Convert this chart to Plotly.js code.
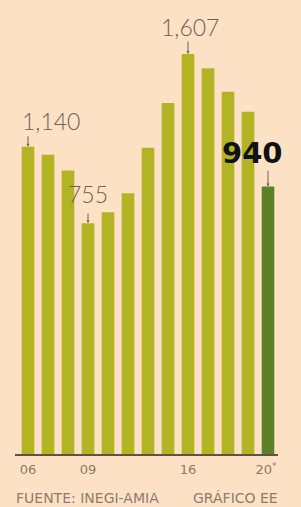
<!DOCTYPE html>
<html>
<head>
<meta charset="utf-8">
<script src="https://cdn.plot.ly/plotly-3.0.1.min.js"></script>
<style>html,body{margin:0;padding:0;background:#fde1c4;}</style>
</head>
<body>
<div id="chart" style="width:301px;height:507px;"></div>
<script>
// Data
const categories = ["2006","2007","2008","2009","2010","2011","2012","2013","2016","2017","2018","2019","2020"];
const values = [1140, 1100, 1020, 755, 810, 905, 1135, 1360, 1607, 1535, 1417, 1316, 940];
const tickVals = ["2006","2009","2016","2020"];
const tickText = ["06","09","16","20<sup>*</sup>&nbsp;"];
const labelCats = ["2006","2009","2016","2020"];
const labelVals = [1140, 755, 1607, 940];
const labelText = ["1,140","755","1,607","940"];
const sourceText = "FUENTE: INEGI-AMIA";
const creditText = "GRÁFICO EE";

// Styling
const axisFloor = -408;
const bg = "#fde1c4";
const olive = "#b2b423";
const dark = "#5c8126";
const colors = categories.map((c, i) => i === categories.length - 1 ? dark : olive);

const thin = {family: "Lato", weight: 300, size: 23, color: "#6c6058"};
const labelStyle = [
  {xshift: 23, yshift: 26, font: thin, len: 12},
  {xshift: 0, yshift: 29, font: thin, len: 11},
  {xshift: 2, yshift: 27, font: thin, len: 14},
  {xshift: -16, yshift: 33, font: {family: "DejaVu Sans", weight: 700, size: 29, color: "#111111"}, len: 17}
];

const annotations = [];
labelCats.forEach((c, i) => {
  const s = labelStyle[i];
  const xi = categories.indexOf(c);
  annotations.push({
    x: xi, y: labelVals[i], xref: "x", yref: "y",
    text: labelText[i], showarrow: false,
    xanchor: "center", yanchor: "middle",
    xshift: s.xshift, yshift: s.yshift, font: s.font
  });
  annotations.push({
    x: xi, y: labelVals[i], xref: "x", yref: "y",
    text: "", showarrow: true, ax: 0, ay: -s.len,
    arrowhead: 2, arrowsize: 0.6, arrowwidth: 1, arrowcolor: "#6c6058"
  });
});
const footFont = {family: "DejaVu Sans", size: 14, color: "#8c7c6e"};
annotations.push({
  x: -0.004, y: -0.096, xref: "paper", yref: "paper", xanchor: "left", yanchor: "middle",
  text: sourceText, showarrow: false, font: footFont
});
annotations.push({
  x: 1.008, y: -0.096, xref: "paper", yref: "paper", xanchor: "right", yanchor: "middle",
  text: creditText, showarrow: false, font: footFont
});

const trace = {
  type: "bar",
  x: categories,
  y: values.map(v => v - axisFloor),
  base: axisFloor,
  marker: {color: colors, line: {width: 0}},
  hoverinfo: "skip"
};

const layout = {
  width: 301, height: 507,
  margin: {l: 15, r: 23, t: 0, b: 53, pad: 0},
  paper_bgcolor: bg, plot_bgcolor: bg,
  bargap: 0.37,
  showlegend: false,
  xaxis: {
    type: "category", range: [-0.65, 12.5],
    showline: true, linecolor: "#5f5249", linewidth: 1.5,
    tickvals: tickVals, ticktext: tickText, ticks: "",
    ticklabelstandoff: 3,
    tickfont: {family: "DejaVu Sans", size: 13, color: "#8a7a6c"},
    showgrid: false, zeroline: false, fixedrange: true
  },
  yaxis: {range: [axisFloor, 1879], visible: false, fixedrange: true},
  annotations: annotations
};

Plotly.newPlot("chart", [trace], layout, {staticPlot: true, displayModeBar: false});
</script>
</body>
</html>
